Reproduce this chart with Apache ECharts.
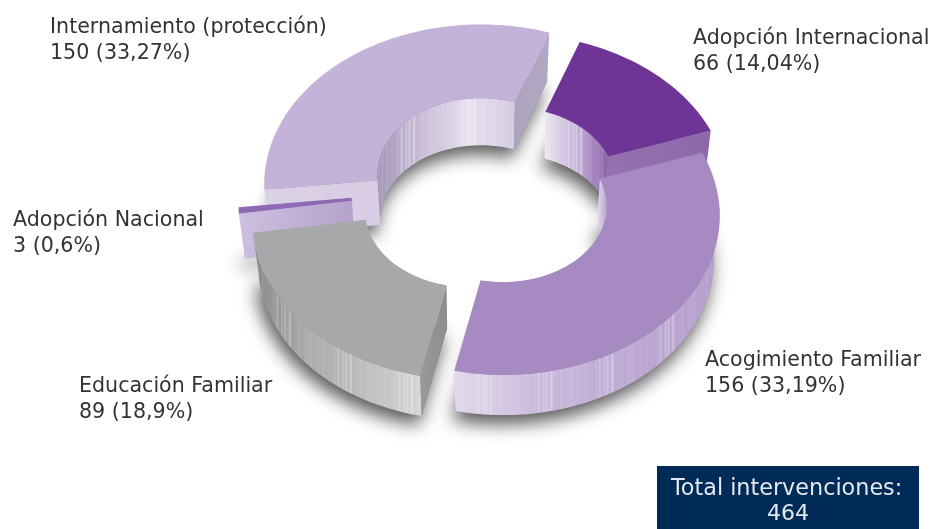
<!DOCTYPE html>
<html><head><meta charset="utf-8">
<style>html,body{margin:0;padding:0;background:#fff}#c{width:931px;height:529px}</style>
<script src="https://cdn.jsdelivr.net/npm/echarts@6/dist/echarts.min.js"></script>
</head><body><div id="c"></div>
<script>
// ---- chart values ----
const categories = ['Adopción Internacional','Acogimiento Familiar','Educación Familiar','Adopción Nacional','Internamiento (protección)'];
const values = [66,156,89,3,150];
const percentLabels = ['14,04','33,19','18,9','0,6','33,27'];
const totalLabel = 'Total intervenciones:';
const totalValue = 464;

// ---- presentation (geometry of the projected ring, colours, label places) ----
const START_DEG = 19.8, INNER = 0.48, A = 216, B = 158.5, P = 0.078, DEPTH = 45, SHRINK = 0.028;
const centers = [[511.5,181],[503,203],[469,208],[455,189],[481,171.5]];
const drawOrder = [4,0,3,2,1];
const styles = [
 {top:'#6e3596', start:'#7d4fa0', end:['#9472b2','#8a68aa'], inner:['#ece7f2','#c3b0d6','#875ca6'], outer:'#8f6cae'},
 {top:'#a88ac2', start:'#a88ac2', end:'#a88ac2', inner:['#e6dfee','#cbbcdc','#b9a5cf'], outer:['#e0d8ea','#c8b7dc','#bca7d3','#b49dcc']},
 {top:'#a7a8aa', start:['#98999b','#8c8d8f'], end:'#9a9b9d', inner:'#a7a8aa', outer:['#88898b','#a9aaac','#bcbcbe','#d6d6d8']},
 {top:'#8f69b4', start:['#cdbfdf','#b5a2cb'], end:'#b7a4cc', inner:'#b7a4cc', outer:'#c9bbdb'},
 {top:'#c3b3d9', start:['#dbd1e6','#d8cde4'], end:['#aea3be','#b3a8c3'], inner:['#a497b6','#c9bcd8','#e6dfee','#d5c9e2'], outer:'#dbd1e6'}
];
const labelPlaces = [[693,25],[705,347],[79,373],[13,207],[50,14]];
const streaks = [0,.5,.15,.8,.1,.35,.95,.2,0,.6,.3,.05,.75,.4,.12,.9,.25,0,.55,.18,.7,.08,.45,1,.22,.03,.65,.32,.1,.85,.02,.28,.6,.13,.42,.07,.72,.19];

const total = values.reduce((a,b)=>a+b,0);
let run = START_DEG;
const spans = values.map(v=>{const s=[run,run+v/total*360];run=s[1];return s;});

function project(i,deg,r,z){
  const t=deg*Math.PI/180, u=r*Math.sin(t), v=r*Math.cos(t), w=1+P*v, s=1-SHRINK*z, c=centers[i];
  return [c[0]+s*A*u/w, c[1]-s*B*v/w+DEPTH*z];
}
function arc(i,a,b,r,z){
  const n=Math.max(2,Math.ceil(Math.abs(b-a)/1.5)), p=[];
  for(let k=0;k<=n;k++) p.push(project(i,a+(b-a)*k/n,r,z));
  return p;
}
function hex(c){return [1,3,5].map(k=>parseInt(c.substr(k,2),16));}
function mixArr(a,b,t){const x=hex(a),y=hex(b);return x.map((q,k)=>q+(y[k]-q)*t);}
function ramp(cols,t){const n=cols.length-1,f=Math.min(n-1e-6,t*n),k=Math.floor(f);return mixArr(cols[k],cols[k+1],f-k);}
function wallFill(pts,cols,amount){
  if(typeof cols==='string') return cols;
  const xs=pts.map(p=>p[0]), x0=Math.min(...xs), x1=Math.max(...xs);
  const N=Math.max(2,Math.round((x1-x0)/1.6)), stops=[];
  for(let k=0;k<=N;k++){
    const t=k/N, base=ramp(cols,t), s=(streaks[k%streaks.length]*streaks[(k*7+3)%streaks.length])*amount;
    stops.push({offset:t,color:'rgb('+base.map(q=>Math.round(q+(255-q)*s)).join(',')+')'});
  }
  return {type:'linear',x:x0,y:0,x2:x1,y2:0,global:true,colorStops:stops};
}
function poly(pts,fill){return {type:'polygon',shape:{points:pts},style:{fill:fill,stroke:null}};}
function ringPath(i,z){const [a,b]=spans[i];return arc(i,a,b,1,z).concat(arc(i,b,a,INNER,z));}

// visible part of an arc wall: the near half for outer walls, the far half for inner walls
function clipped(a,b,lo,hi){
  for(const off of [0,360,-360]){const x=Math.max(a,lo+off),y=Math.min(b,hi+off); if(y>x) return [x,y];}
  return null;
}
function renderShadow(params,api){
  const i=api.value(0), pts=ringPath(i,1);
  return {type:'polygon',shape:{points:pts},style:{fill:'#8a8a8a',shadowColor:'rgba(0,0,0,0.66)',shadowBlur:18,shadowOffsetY:9,shadowOffsetX:-3}};
}
function renderSlice(params,api){
  const i=api.value(0),[a,b]=spans[i],st=styles[i],kids=[];
  const mid=project(i,(a+b)/2,(1+INNER)/2,0);
  const quad=d=>[project(i,d,1,0),project(i,d,INNER,0),project(i,d,INNER,1),project(i,d,1,1)];
  const facing=q=>{ // radial wall shows only when the top face lies on the other side of its edge from "down"
    const ex=q[1][0]-q[0][0], ey=q[1][1]-q[0][1];
    const side=ex*(mid[1]-q[0][1])-ey*(mid[0]-q[0][0]);
    return side*ex<0;
  };
  const wall=(lo,hi,r)=>arc(i,lo,hi,r,0).concat(arc(i,lo,hi,r,1).reverse());
  const o=clipped(a,b,88,272), n=clipped(a,b,-90,90);
  if(o){const p=wall(o[0],o[1],1);kids.push(poly(p,wallFill(p,st.outer,.5)));}
  if(n){const p=wall(n[0],n[1],INNER);kids.push(poly(p,wallFill(p,st.inner,.6)));}
  const sP=quad(a), eP=quad(b);
  if(facing(sP)) kids.push(poly(sP,wallFill(sP,st.start,0)));
  if(facing(eP)) kids.push(poly(eP,wallFill(eP,st.end,0)));
  kids.push(poly(ringPath(i,0),st.top));
  return {type:'group',children:kids};
}
const orderData = drawOrder.map(i=>[i]);
const FONT = '"DejaVu Sans"';
const textStyle = {fontFamily:FONT,fontSize:20.6,lineHeight:26.5,fill:'#333333'};
const chart = echarts.init(document.getElementById('c'),null,{renderer:'canvas'});
chart.setOption({
  animation:false,
  backgroundColor:'#ffffff',
  series:[
    {type:'custom',coordinateSystem:'none',silent:true,z:1,data:orderData,renderItem:renderShadow},
    {type:'custom',coordinateSystem:'none',silent:true,z:2,data:orderData,renderItem:renderSlice}
  ],
  graphic:[
    ...categories.map((c,i)=>({type:'text',z:5,left:labelPlaces[i][0],top:labelPlaces[i][1],
      style:Object.assign({},textStyle,{text:c+'\n'+values[i]+' ('+percentLabels[i]+'%)'})})),
    {type:'rect',z:4,shape:{x:657,y:466,width:262,height:63},style:{fill:'#002b57'}},
    {type:'text',z:5,left:671,top:478,style:{text:totalLabel,fontFamily:FONT,fontSize:22.3,fill:'#e3e8ee'}},
    {type:'text',z:5,left:767,top:503,style:{text:String(totalValue),fontFamily:FONT,fontSize:22,fill:'#e3e8ee'}}
  ]
});
</script></body></html>
